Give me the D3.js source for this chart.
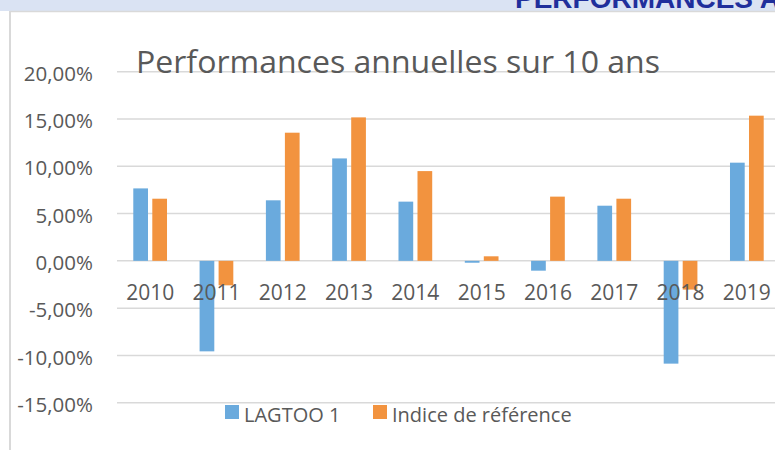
<!DOCTYPE html>
<html>
<head>
<meta charset="utf-8">
<script src="https://cdn.jsdelivr.net/npm/d3@7"></script>
<style>
  html, body { margin: 0; padding: 0; background: #fff; }
  svg { display: block; font-family: "Open Sans", "Noto Sans", sans-serif; }
</style>
</head>
<body>
<div id="chart"></div>
<script>
// Performances annuelles sur 10 ans
const years = ["2010", "2011", "2012", "2013", "2014", "2015", "2016", "2017", "2018", "2019"];
const lagtoo = [7.66, -9.57, 6.40, 10.83, 6.26, -0.20, -1.04, 5.83, -10.87, 10.38];
const indice = [6.57, -2.59, 13.55, 15.17, 9.49, 0.48, 6.79, 6.57, -3.04, 15.35];
const seriesNames = ["LAGTOO 1", "Indice de référence"];
const yTicks = [-15, -10, -5, 0, 5, 10, 15, 20];

const width = 775, height = 450;
const colors = ["#6aaadd", "#f2933f"];
const textColor = "#595959";
const gridColor = "#d9d9d9";

const svg = d3.select("#chart")
  .append("svg")
  .attr("width", width)
  .attr("height", height);

svg.append("rect").attr("width", width).attr("height", height).attr("fill", "#fff");

// bandeau du haut (titre coupé en haut, comme sur l'original)
svg.append("rect").attr("x", 0).attr("y", 0).attr("width", width).attr("height", 11).attr("fill", "#dae3f3");
svg.append("text")
  .attr("x", 515).attr("y", 8)
  .attr("font-family", "Liberation Sans, Arial, sans-serif")
  .attr("font-weight", "bold")
  .attr("font-size", 28)
  .attr("fill", "#1f2f9c")
  .text("PERFORMANCES ANNUELLES");
svg.append("line").attr("x1", 10).attr("x2", width).attr("y1", 11.5).attr("y2", 11.5)
  .attr("stroke", gridColor).attr("stroke-width", 1.5);
svg.append("line").attr("x1", 10).attr("x2", 10).attr("y1", 11).attr("y2", height)
  .attr("stroke", gridColor).attr("stroke-width", 2);

const plotLeft = 117, plotRight = 780;
const y = d3.scaleLinear().domain([-15, 20]).range([402.7, 71.7]);
const x0 = d3.scaleBand().domain(years).range([plotLeft, plotRight]);
const x1 = d3.scaleBand().domain(seriesNames).range([0, x0.bandwidth()])
  .paddingInner(0.226).paddingOuter(0.857);

// grille
svg.append("g").selectAll("line")
  .data(yTicks)
  .join("line")
  .attr("x1", plotLeft).attr("x2", width)
  .attr("y1", d => y(d)).attr("y2", d => y(d))
  .attr("stroke", gridColor).attr("stroke-width", 1.5);

// libellés axe Y
const fmt = d => d3.format(".2f")(d).replace(".", ",").replace("−", "-") + "%";
svg.append("g").selectAll("text")
  .data(yTicks)
  .join("text")
  .attr("x", 93)
  .attr("y", d => y(d))
  .attr("dy", "0.45em")
  .attr("text-anchor", "end")
  .attr("font-size", 20.5)
  .attr("fill", textColor)
  .text(fmt);

// titre
svg.append("text")
  .attr("x", 136).attr("y", 73)
  .attr("font-size", 31)
  .attr("fill", textColor)
  .attr("textLength", 524)
  .attr("lengthAdjust", "spacingAndGlyphs")
  .text("Performances annuelles sur 10 ans");

// barres
const rows = years.map((yr, i) => ({ year: yr, values: [lagtoo[i], indice[i]] }));
const groups = svg.append("g").selectAll("g")
  .data(rows)
  .join("g")
  .attr("transform", d => `translate(${x0(d.year)},0)`);

groups.selectAll("rect")
  .data(d => d.values.map((v, j) => ({ name: seriesNames[j], value: v, j })))
  .join("rect")
  .attr("x", d => x1(d.name))
  .attr("width", x1.bandwidth())
  .attr("y", d => Math.min(y(d.value), y(0)))
  .attr("height", d => Math.abs(y(d.value) - y(0)))
  .attr("fill", d => colors[d.j]);

// libellés axe X
svg.append("g").selectAll("text")
  .data(years)
  .join("text")
  .attr("x", d => x0(d) + x0.bandwidth() / 2)
  .attr("y", 300)
  .attr("text-anchor", "middle")
  .attr("font-size", 21)
  .attr("fill", textColor)
  .text(d => d);

// légende
const legendX = [225, 373];
const legend = svg.append("g").selectAll("g")
  .data(seriesNames)
  .join("g")
  .attr("transform", (d, i) => `translate(${legendX[i]},405)`);
legend.append("rect").attr("width", 14).attr("height", 14).attr("fill", (d, i) => colors[i]);
legend.append("text")
  .attr("x", 19).attr("y", 16.5)
  .attr("font-size", 20)
  .attr("fill", textColor)
  .text(d => d);
</script>
</body>
</html>
